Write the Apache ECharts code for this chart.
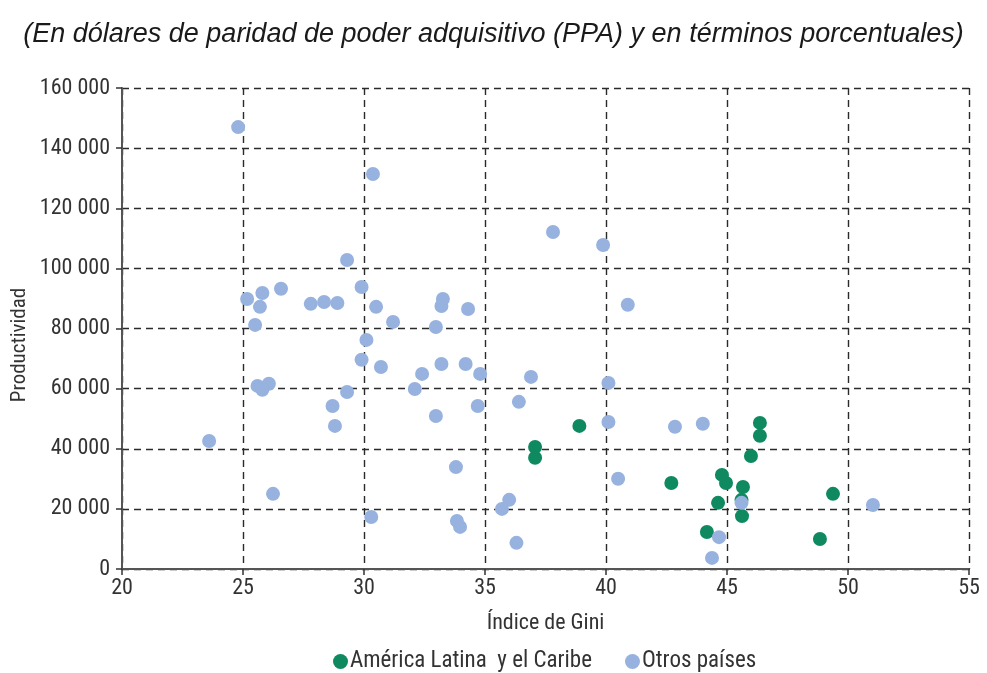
<!DOCTYPE html>
<html><head><meta charset="utf-8">
<script src="https://cdn.jsdelivr.net/npm/echarts@6/dist/echarts.min.js"></script>
<style>html,body{margin:0;padding:0;background:#fff}#c{width:987px;height:673px}</style>
</head><body><div id="c"></div>
<script>
const titleText = "(En dólares de paridad de poder adquisitivo (PPA) y en términos porcentuales)";
const seriesNames = ["América Latina  y el Caribe", "Otros países"];
const xTicks = [20, 25, 30, 35, 40, 45, 50, 55];
const yTicks = [0, 20000, 40000, 60000, 80000, 100000, 120000, 140000, 160000];
const latamGini = [38.9, 37.07, 37.07, 42.7, 46.36, 46.36, 45.99, 44.79, 44.96, 45.66, 44.63, 45.62, 44.17, 49.38, 48.84, 45.6];
const latamProd = [47600, 40600, 37000, 28600, 48600, 44300, 37600, 31300, 28600, 27300, 22000, 17600, 12300, 25000, 10000, 23000];
const otrosGini = [24.8, 30.37, 37.81, 39.88, 29.3, 40.9, 25.17, 25.8, 26.57, 25.7, 25.5, 27.8, 28.35, 28.9, 29.9, 30.5, 31.2, 33.26, 33.2, 34.3, 32.97, 29.9, 30.1, 30.7, 32.4, 33.2, 34.2, 34.8, 36.9, 40.1, 25.6, 26.07, 25.8, 29.3, 32.1, 28.7, 34.7, 36.4, 32.97, 28.8, 40.1, 42.85, 44.0, 23.6, 33.8, 40.5, 26.24, 36.0, 35.7, 30.3, 33.84, 33.97, 36.3, 44.67, 44.38, 45.6, 51.03];
const otrosProd = [147000, 131400, 112100, 107800, 102800, 87900, 89800, 91800, 93200, 87200, 81200, 88200, 88800, 88500, 93800, 87200, 82200, 89800, 87500, 86500, 80500, 69600, 76200, 67200, 64900, 68200, 68200, 64900, 63900, 61900, 60900, 61600, 59600, 58900, 59900, 54200, 54200, 55600, 50900, 47600, 48900, 47300, 48300, 42600, 33900, 30000, 25000, 23000, 20000, 17300, 16000, 14000, 8700, 10600, 3700, 22000, 21300];

const zip = (a, b) => a.map((v, i) => [v, b[i]]);
const fmt = v => String(v).replace(/\B(?=(\d{3})+(?!\d))/g, " ");
const font = "'Liberation Sans Narrow', 'Roboto Condensed', 'DejaVu Sans Condensed', sans-serif";
const GREEN = "#0f8a60", BLUE = "#97b2df";

const chart = echarts.init(document.getElementById('c'), null, {renderer: 'canvas'});
chart.setOption({
  animation: false,
  backgroundColor: '#fff',
  title: {
    text: titleText, left: 'center', top: 16,
    textStyle: {fontFamily: "'Liberation Sans', Arial, sans-serif", fontStyle: 'italic', fontWeight: 'normal', fontSize: 27, color: '#1a1a1a'}
  },
  graphic: [{
    type: 'text', x: 20, y: 345, rotation: Math.PI / 2,
    style: {text: 'Productividad', fontFamily: font, fontSize: 21, fill: '#333', align: 'center', verticalAlign: 'middle'}
  }],
  legend: {
    data: [{name: seriesNames[0]}, {name: seriesNames[1]}],
    left: 328, top: 645, icon: 'circle', itemWidth: 15, itemHeight: 15, itemGap: 33,
    textStyle: {fontFamily: font, fontSize: 23, color: '#333', padding: [0, 0, 0, -3]}
  },
  grid: {left: 122, right: 18, top: 88, bottom: 104, containLabel: false},
  xAxis: {
    type: 'value', min: 20, max: 55, interval: 5,
    name: 'Índice de Gini', nameLocation: 'middle', nameGap: 43,
    nameTextStyle: {fontFamily: font, fontSize: 22, color: '#333'},
    axisLine: {show: true, onZero: false, lineStyle: {color: '#555', width: 2}},
    axisTick: {show: true, inside: false, length: 6, lineStyle: {color: '#333', width: 1.5}},
    axisLabel: {fontFamily: font, fontSize: 22, color: '#333', margin: 8, formatter: v => xTicks.includes(v) ? String(v) : ''},
    splitLine: {show: true, lineStyle: {color: '#2a2a2a', type: [7, 5], width: 1.4}}
  },
  yAxis: {
    type: 'value', min: 0, max: 160000, interval: 20000,
    axisLine: {show: true, lineStyle: {color: '#555', width: 2}},
    axisTick: {show: true, length: 6, lineStyle: {color: '#333', width: 1.5}},
    axisLabel: {fontFamily: font, fontSize: 22, color: '#333', margin: 12, formatter: v => yTicks.includes(v) ? fmt(v) : ''},
    splitLine: {show: true, lineStyle: {color: '#2a2a2a', type: [7, 5], width: 1.4}}
  },
  series: [
    {name: seriesNames[0], type: 'scatter', data: zip(latamGini, latamProd), symbolSize: 14, itemStyle: {color: GREEN, opacity: 1}, z: 2},
    {name: seriesNames[1], type: 'scatter', data: zip(otrosGini, otrosProd), symbolSize: 14, itemStyle: {color: BLUE, opacity: 1}, z: 3}
  ]
});
</script></body></html>
